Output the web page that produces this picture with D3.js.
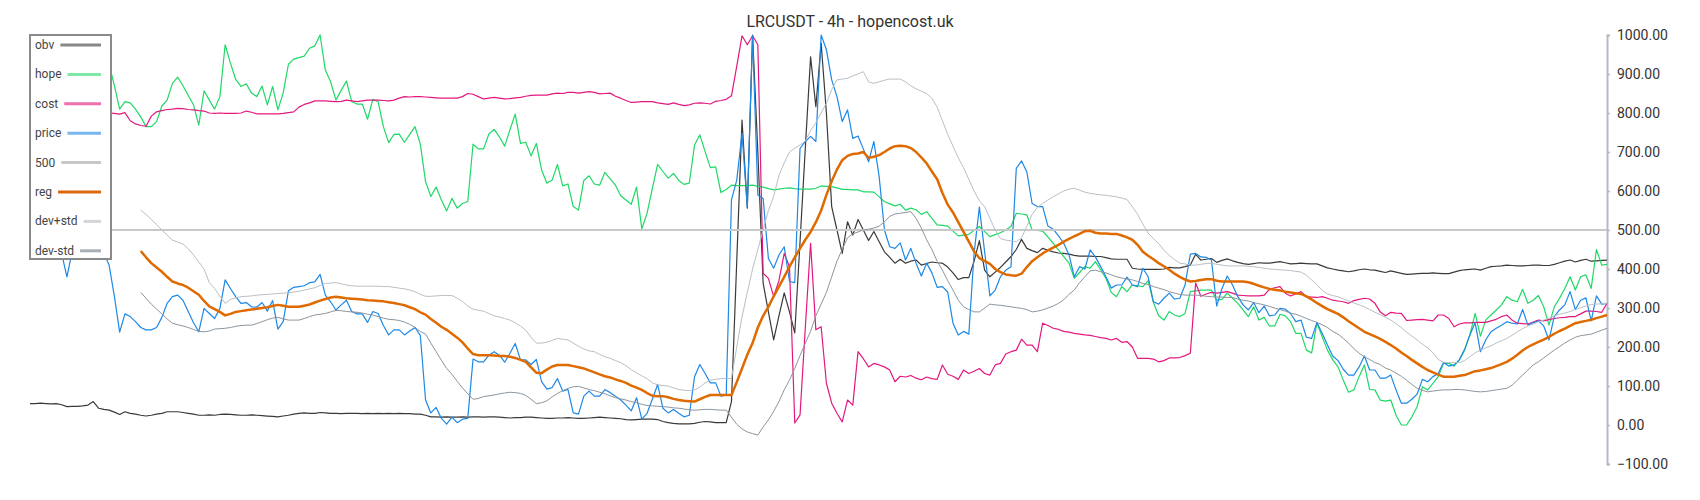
<!DOCTYPE html>
<html>
<head>
<meta charset="utf-8">
<script src="https://cdn.jsdelivr.net/npm/d3@7"></script>
<style>
  body { margin: 0; background: #fff; }
  text { font-family: Roboto, "Noto Sans", sans-serif; }
</style>
</head>
<body>
<div id="chart"></div>
<script>
const title = 'LRCUSDT - 4h - hopencost.uk';
const yTicks = [-100, 0, 100, 200, 300, 400, 500, 600, 700, 800, 900, 1000];
const level500 = 500;

const obv = [
  55,55,56,55,54,55,52,47,48,48,
  49,51,60,43,40,38,33,27,34,30,
  28,25,23,25,28,30,34,34,34,32,
  30,28,25,25,26,25,27,28,27,26,
  25,25,26,25,24,23,22,21,23,25,
  28,30,31,30,30,32,31,30,30,29,
  30,30,30,29,30,29,30,29,30,29,
  30,29,29,28,28,25,21,21,20,21,
  20,20,21,20,21,21,20,21,21,20,
  19,18,19,19,20,20,19,18,17,17,
  18,18,19,18,17,17,18,19,20,19,
  18,17,16,14,13,14,15,15,15,14,
  9,6,4,3,3,3,4,7,9,8,
  6,6,6,60,420,782,556,1000,700,364,
  290,218,280,339,290,236,470,710,944,816,
  979,800,560,500,440,521,487,527,500,473,
  496,470,444,430,415,425,415,420,423,410,
  414,418,416,415,405,390,373,378,378,420,
  473,397,380,392,404,418,432,450,476,453,
  447,442,453,448,444,441,440,438,435,433,
  433,433,432,432,429,426,425,425,425,402,
  400,399,399,399,399,400,404,403,403,406,
  410,438,423,425,427,417,422,426,421,417,
  414,412,414,416,415,415,417,419,416,413,
  414,415,414,413,413,408,403,400,397,395,
  393,395,398,400,398,397,394,391,395,392,
  389,386,387,388,389,389,390,389,388,388,
  392,396,398,399,400,397,402,406,407,408,
  410,409,408,408,409,410,410,409,409,412,
  416,420,423,418,422,425,420,421,422,423
];

const hope = [
  900,880,910,935,920,890,905,930,950,940,
  960,945,930,950,960,925,870,810,829,826,
  810,790,765,765,778,818,833,876,892,870,
  845,821,769,857,833,810,842,975,928,886,
  868,875,851,842,869,821,868,808,851,925,
  938,942,946,966,972,1000,910,880,833,858,
  882,829,823,823,784,835,829,765,724,745,
  746,725,745,765,720,624,586,610,577,549,
  581,556,568,573,720,708,708,746,758,739,
  715,757,797,722,725,690,722,654,620,628,
  668,613,618,560,551,627,639,618,615,648,
  631,615,588,577,566,610,503,543,607,668,
  650,633,645,627,617,620,718,744,701,660,
  662,596,604,615,614,614,614,615,612,610,
  606,603,605,607,608,606,605,605,605,607,
  613,612,611,608,604,604,603,603,598,598,
  597,585,573,567,562,566,551,556,552,540,
  547,530,513,512,510,497,485,487,489,499,
  509,496,483,488,493,500,509,543,541,539,
  500,499,497,482,466,449,432,415,376,391,
  406,402,419,398,376,340,329,355,342,359,
  357,355,370,314,280,269,291,282,278,286,
  342,344,346,346,346,320,322,338,325,312,
  295,278,303,269,276,254,254,284,280,265,
  235,235,192,185,262,226,192,167,149,115,
  84,90,124,154,91,90,64,61,64,25,
  0,0,21,47,98,90,107,124,158,158,
  151,167,192,231,286,228,269,282,295,308,
  329,320,316,348,312,320,332,303,256,303,
  325,350,380,346,380,385,350,450,410,412
];

const cost = [
  805,806,804,802,803,801,800,800,799,800,
  801,800,799,800,800,800,799,797,801,780,
  772,768,766,792,803,806,809,810,812,811,
  809,808,806,805,800,799,800,799,799,799,
  800,805,802,798,798,798,798,798,799,801,
  803,815,822,826,831,831,831,830,829,830,
  833,831,829,831,833,833,833,832,831,833,
  838,842,841,842,842,841,840,839,838,838,
  838,838,842,850,848,842,836,838,840,838,
  836,837,839,840,843,845,846,846,846,849,
  851,850,853,853,851,853,855,853,849,850,
  851,843,838,832,827,828,829,829,829,826,
  824,822,826,822,819,821,825,826,825,823,
  830,832,835,844,920,998,975,998,975,389,
  376,330,370,440,406,5,26,250,466,244,
  252,107,56,30,8,64,51,188,170,149,
  158,154,149,141,111,125,123,127,120,116,
  123,119,117,154,130,125,117,141,132,138,
  145,132,128,154,158,182,188,192,220,205,
  205,188,261,255,248,245,240,238,235,233,
  231,230,227,224,222,218,222,212,214,200,
  171,171,171,169,162,165,172,172,173,178,
  184,364,330,336,340,338,340,342,338,333,
  332,331,331,331,333,348,352,355,338,331,
  336,342,329,328,327,329,325,320,318,316,
  312,319,322,325,323,312,290,280,289,287,
  286,268,269,270,271,269,267,282,282,273,
  252,259,262,262,263,263,263,267,271,278,
  282,269,261,260,259,264,269,267,270,273,
  275,276,278,278,285,292,292,291,289,312
];

const price = [
  470,480,490,475,460,455,440,380,445,470,
  480,470,460,450,440,410,330,238,285,278,
  265,250,244,244,250,276,312,329,333,320,
  291,262,239,299,286,273,299,372,350,329,
  312,314,303,302,314,292,319,246,265,344,
  353,355,357,365,367,386,333,316,295,308,
  320,291,285,285,263,291,286,255,231,244,
  244,231,241,250,230,64,31,45,17,2,
  20,6,15,17,169,162,162,179,188,179,
  161,184,209,167,167,155,168,111,92,96,
  119,87,91,31,28,74,87,74,74,91,
  83,74,64,51,36,70,15,30,66,104,
  43,31,40,30,21,25,124,155,132,108,
  108,74,77,577,628,748,560,998,590,581,
  427,402,436,457,368,365,709,727,740,727,
  1000,962,885,842,778,808,735,741,708,675,
  727,637,500,457,453,467,423,453,415,382,
  415,390,353,355,341,261,231,240,233,440,
  559,444,331,346,380,397,406,658,677,649,
  568,560,560,510,502,485,466,436,380,406,
  400,449,431,406,380,351,359,359,379,359,
  355,402,380,316,310,325,338,323,325,359,
  438,440,431,430,423,305,350,382,359,329,
  308,295,314,288,305,280,282,299,297,286,
  265,269,225,222,263,235,205,177,165,143,
  128,128,149,177,141,141,120,120,128,90,
  56,56,66,79,117,111,124,132,160,151,
  154,167,194,231,262,188,218,239,248,256,
  265,261,259,296,256,262,267,254,218,278,
  295,308,342,296,320,326,267,331,310,312
];

const reg = [
  null,null,null,null,null,null,null,null,null,null,
  null,null,null,null,null,null,null,null,null,null,
  null,446,430,415,404,393,380,368,363,359,
  352,343,334,318,304,297,290,281,285,290,
  292,294,296,298,300,302,305,308,306,303,
  303,303,306,309,314,319,323,327,329,327,
  325,324,323,322,320,319,318,317,315,313,
  310,307,302,297,289,283,272,262,252,244,
  234,224,212,196,182,179,179,179,178,177,
  177,175,172,167,162,148,134,133,142,150,
  154,154,154,151,148,145,140,135,130,125,
  122,117,113,108,101,96,90,82,75,74,
  74,71,67,64,62,61,60,66,72,77,
  77,77,77,77,110,145,180,210,250,280,
  303,330,355,380,406,430,453,475,495,520,
  550,590,625,655,679,690,695,696,700,685,
  688,692,700,709,715,716,715,710,700,686,
  671,650,630,595,565,545,520,495,470,445,
  428,420,413,400,392,386,384,383,388,405,
  420,430,440,448,455,462,470,477,484,490,
  497,498,493,491,491,490,490,486,481,475,
  462,444,434,425,415,407,398,388,380,373,
  368,369,372,374,374,370,368,368,368,368,
  368,366,362,357,353,349,347,345,342,340,
  338,336,330,322,313,305,297,291,285,276,
  266,257,248,239,233,227,221,213,205,196,
  186,177,167,158,149,141,135,129,124,124,
  124,126,128,133,138,140,143,146,151,156,
  162,170,180,191,200,207,213,219,226,234,
  241,247,254,261,264,267,270,274,278,282
];

const devPlus = [
  null,null,null,null,null,null,null,null,null,null,
  null,null,null,null,null,null,null,null,null,null,
  null,551,540,527,514,500,487,474,469,464,
  452,436,418,400,365,350,330,312,322,326,
  329,330,331,333,334,335,336,337,338,339,
  341,343,346,349,352,358,363,364,365,362,
  359,357,356,356,356,356,356,355,355,353,
  351,349,346,342,335,330,330,331,332,332,
  332,325,317,305,297,294,292,286,280,277,
  273,269,262,254,243,225,210,210,212,217,
  222,220,218,210,202,195,190,188,181,175,
  171,165,160,152,142,134,126,119,108,103,
  101,100,95,91,89,88,90,97,108,115,
  117,119,119,119,200,277,340,400,450,500,
  550,586,640,672,700,710,718,728,755,775,
  800,825,860,885,887,889,895,900,906,880,
  876,880,884,887,887,887,880,870,862,856,
  850,838,815,780,745,715,685,660,630,600,
  575,560,530,500,478,474,472,470,480,510,
  540,558,568,577,585,593,600,605,607,602,
  597,594,592,590,589,587,585,582,578,560,
  540,515,492,478,465,448,435,424,415,413,
  410,410,412,414,415,412,410,408,408,408,
  408,407,406,404,402,400,399,398,397,396,
  394,392,384,372,360,345,336,332,329,323,
  318,313,308,303,296,289,283,276,269,260,
  250,238,228,218,207,198,185,168,161,160,
  160,160,165,175,185,192,198,203,210,216,
  222,230,239,247,254,259,265,269,274,280,
  284,287,291,296,301,305,309,310,311,312
];

const devMinus = [
  null,null,null,null,null,null,null,null,null,null,
  null,null,null,null,null,null,null,null,null,null,
  null,340,325,310,297,285,272,261,257,254,
  250,245,240,239,241,246,247,248,250,253,
  255,256,256,260,265,270,274,276,272,269,
  269,269,273,278,282,284,286,290,294,293,
  291,290,289,287,284,282,278,274,271,270,
  268,264,258,250,240,233,210,188,166,145,
  130,112,95,80,66,68,73,75,77,80,
  82,84,83,81,76,66,55,57,62,72,
  81,88,94,98,99,95,91,88,84,80,
  75,70,67,64,60,57,53,50,49,48,
  47,46,44,43,41,39,38,39,40,40,
  39,38,38,20,2,-10,-18,-22,-26,-5,
  13,35,60,90,115,145,178,210,240,280,
  310,340,380,420,450,480,490,495,500,502,
  505,510,521,535,541,543,545,547,530,505,
  475,450,420,397,370,346,320,303,296,290,
  290,300,310,308,307,305,303,301,299,296,
  290,292,295,300,305,312,321,335,346,365,
  380,395,397,393,390,385,380,377,374,372,
  368,363,360,355,351,347,342,338,335,333,
  333,333,332,330,329,328,328,327,327,323,
  320,318,314,311,308,304,300,296,292,287,
  284,279,273,268,263,257,250,240,233,222,
  210,196,184,175,168,160,155,146,141,133,
  125,115,104,94,89,85,87,89,90,90,
  91,91,90,88,86,85,86,88,90,92,
  94,102,115,128,141,154,162,172,182,192,
  201,210,218,225,229,231,233,238,243,248
];

const series = [
  { name: 'obv', values: obv, color: '#3a3a3a', width: 1.2, key: '#888888' },
  { name: 'hope', values: hope, color: '#1fd866', width: 1.2, key: '#7ee8a6' },
  { name: 'cost', values: cost, color: '#e3187f', width: 1.2, key: '#f06fae' },
  { name: 'price', values: price, color: '#1e88e5', width: 1.2, key: '#78b6ee' },
  { name: '500', values: null, color: '#c8c8c8', width: 2, key: '#c8c8c8' },
  { name: 'reg', values: reg, color: '#df6a00', width: 2.5, key: '#d9690e' },
  { name: 'dev+std', values: devPlus, color: '#b8bfc6', width: 1, key: '#d2d6da' },
  { name: 'dev-std', values: devMinus, color: '#8c959e', width: 1, key: '#a8afb6' }
];

const width = 1700;
const height = 500;
const plot = { left: 30, right: 1607, top: 35, bottom: 464 };

const svg = d3.select('#chart')
  .append('svg')
  .attr('width', width)
  .attr('height', height);

// scales
const x = d3.scaleLinear()
  .domain([0, obv.length - 1])
  .range([plot.left, plot.right]);

const y = d3.scaleLinear()
  .domain([-100, 1000])
  .range([plot.bottom, plot.top]);

// title
svg.append('text')
  .attr('x', width / 2)
  .attr('y', 21)
  .attr('text-anchor', 'middle')
  .attr('dominant-baseline', 'central')
  .attr('font-size', 16)
  .attr('fill', '#333')
  .text(title);

// right axis
const axis = svg.append('g')
  .attr('transform', `translate(${plot.right},0)`)
  .call(d3.axisRight(y).tickValues(yTicks).tickFormat(d3.format('.2f')).tickSize(3).tickPadding(7));

axis.select('.domain').attr('stroke', '#b3bac1').attr('stroke-width', 2);
axis.selectAll('.tick line').attr('stroke', '#b3bac1').attr('stroke-width', 1.5);
axis.selectAll('.tick text')
  .attr('fill', '#333')
  .attr('font-size', 14)
  .attr('font-family', 'Roboto, sans-serif');

// lines
const line = d3.line()
  .defined(d => d != null)
  .x((d, i) => x(i))
  .y(d => y(d));

series.forEach(s => {
  if (s.values === null) {
    svg.append('line')
      .attr('x1', x(0))
      .attr('x2', x(obv.length - 1))
      .attr('y1', y(level500))
      .attr('y2', y(level500))
      .attr('stroke', s.color)
      .attr('stroke-width', s.width);
    return;
  }
  svg.append('path')
    .datum(s.values)
    .attr('fill', 'none')
    .attr('stroke', s.color)
    .attr('stroke-width', s.width)
    .attr('stroke-linejoin', 'round')
    .attr('d', line);
});

// legend
const legend = svg.append('g');
legend.append('rect')
  .attr('x', 30)
  .attr('y', 35)
  .attr('width', 81)
  .attr('height', 224)
  .attr('fill', '#fff')
  .attr('stroke', '#8a8a8a')
  .attr('stroke-width', 2);

series.forEach((s, k) => {
  const cy = 45 + k * 29.4;
  const label = legend.append('text')
    .attr('x', 35)
    .attr('y', cy)
    .attr('dominant-baseline', 'central')
    .attr('font-size', 12)
    .attr('fill', '#444')
    .text(s.name);
  const end = 35 + label.node().getComputedTextLength();
  legend.append('line')
    .attr('x1', end + 6)
    .attr('x2', 101)
    .attr('y1', cy)
    .attr('y2', cy)
    .attr('stroke', s.key)
    .attr('stroke-width', 3);
});
</script>
</body>
</html>
